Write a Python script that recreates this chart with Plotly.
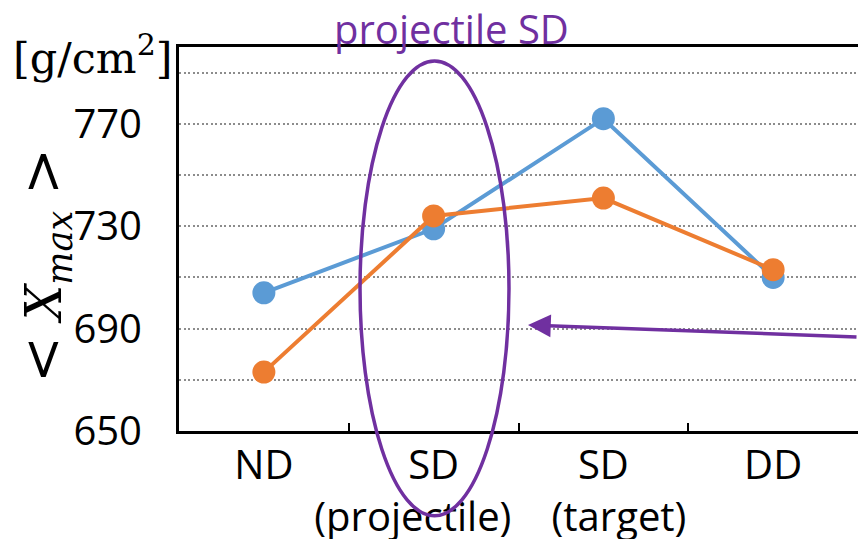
import plotly.graph_objects as go

categories = ["ND", "SD<br>(projectile)&nbsp;&nbsp;&nbsp;&nbsp;", "SD<br>&nbsp;&nbsp;&nbsp;(target)", "DD"]
series_blue = [704, 729, 772, 710]
series_orange = [673, 734, 741, 713]
y_tickvals = [650, 670, 690, 710, 730, 750, 770, 790]
y_ticktext = ["650", "", "690", "", "730", "", "770", ""]

SANS = "Open Sans"
SERIF = "DejaVu Serif"
PURPLE = "#7030A0"

x_idx = list(range(len(categories)))

fig = go.Figure()
fig.add_trace(go.Scatter(
    x=x_idx, y=series_blue, mode="lines+markers",
    line=dict(color="#5B9BD5", width=4),
    marker=dict(color="#5B9BD5", size=23),
    showlegend=False, cliponaxis=False,
))
fig.add_trace(go.Scatter(
    x=x_idx, y=series_orange, mode="lines+markers",
    line=dict(color="#ED7D31", width=4),
    marker=dict(color="#ED7D31", size=23),
    showlegend=False, cliponaxis=False,
))

fig.update_layout(
    width=858, height=539,
    margin=dict(l=179, r=0, t=47, b=108, autoexpand=False),
    paper_bgcolor="white", plot_bgcolor="white",
    font=dict(family=SANS, size=40, color="black"),
    xaxis=dict(
        range=[-0.5, 3.5], automargin=False,
        tickmode="array", tickvals=x_idx, ticktext=categories,
        tickangle=0,
        showline=True, linecolor="black", linewidth=3, mirror=True,
        showgrid=False, zeroline=False,
        ticks="", ticklabelstandoff=-3,
        tickfont=dict(family=SANS, size=40, color="black"),
        minor=dict(tickvals=[0.5, 1.5, 2.5], ticks="inside", ticklen=8,
                   tickwidth=2, tickcolor="black", showgrid=False),
    ),
    yaxis=dict(
        range=[650, 800], automargin=False,
        tickmode="array", tickvals=y_tickvals, ticktext=y_ticktext,
        showline=True, linecolor="black", linewidth=3, mirror=True,
        showgrid=True, gridcolor="#8c8c8c", gridwidth=2, griddash="2px,2.5px",
        zeroline=False, ticks="", ticklabelstandoff=26,
        tickfont=dict(family=SANS, size=40, color="black"),
    ),
)

# Ellipse highlighting projectile SD
fig.add_shape(
    type="circle", xref="x domain", yref="y domain",
    x0=0.2666, x1=0.486, y0=-0.221, y1=0.9635,
    line=dict(color=PURPLE, width=3.5),
)

# Arrow
fig.add_annotation(
    xref="x domain", yref="y domain", x=0.514, y=0.276,
    ax=330, ay=12, text="", showarrow=True,
    arrowhead=2, arrowsize=1.3, arrowwidth=3.5, arrowcolor=PURPLE, standoff=0,
)

# Title text
fig.add_annotation(
    xref="paper", yref="paper", x=0.4006, y=1.049,
    text="projectile SD", showarrow=False,
    font=dict(family=SANS, size=40, color=PURPLE),
    xanchor="center", yanchor="middle",
)

# Unit label
fig.add_annotation(
    xref="paper", yref="paper", x=-0.1267, y=0.98,
    text="[g/cm<sup>2</sup>]", showarrow=False,
    font=dict(family=SERIF, size=43, color="black"),
    xanchor="center", yanchor="middle",
)

# Y axis title
fig.add_annotation(
    xref="paper", yref="paper", x=-0.197, y=0.43,
    text="<span style='font-size:56px'>&lt;</span> <i>X</i><sub><i>max</i></sub> <span style='font-size:56px'>&gt;</span>",
    showarrow=False, textangle=-90,
    font=dict(family=SERIF, size=50, color="black"),
    xanchor="center", yanchor="middle",
)

fig.write_html("out.html")
